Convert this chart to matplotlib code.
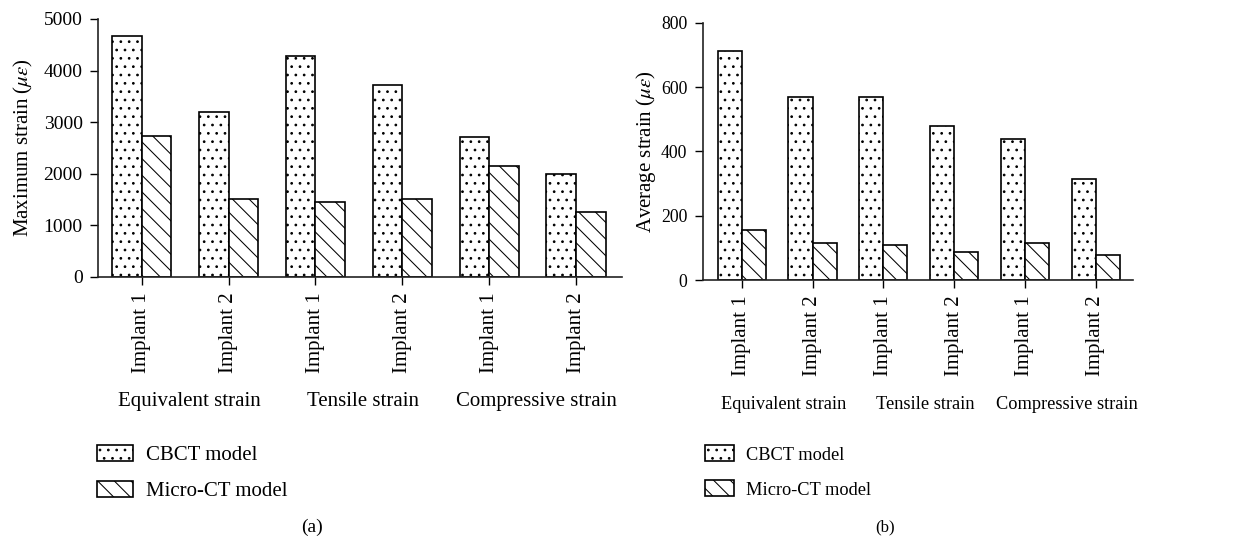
import numpy as np
import matplotlib
matplotlib.use("Agg")
from matplotlib import pyplot as plt

plt.rcParams['font.family'] = ['Liberation Serif', 'DejaVu Serif']
plt.rcParams['mathtext.fontset'] = 'stix'
plt.rcParams['hatch.linewidth'] = 0.75
plt.rcParams['hatch.color'] = '#333333'

implants = ["Implant 1", "Implant 2", "Implant 1", "Implant 2", "Implant 1", "Implant 2"]
groups = ["Equivalent strain", "Tensile strain", "Compressive strain"]
series = ["CBCT model", "Micro-CT model"]

# maximum strain (micro-strain)
max_cbct = [4670, 3190, 4290, 3720, 2710, 2000]
max_micro = [2730, 1500, 1450, 1500, 2150, 1255]

# average strain (micro-strain)
avg_cbct = [713, 568, 568, 479, 438, 315]
avg_micro = [156, 115, 108, 86, 115, 78]

fig = plt.figure(figsize=(12.58, 5.41), dpi=100)
axL = fig.add_axes([0.0779, 0.4886, 0.4163, 0.4763])
axR = fig.add_axes([0.5586, 0.4824, 0.3420, 0.4756])


def draw_panel(ax, cbct, micro, ylabel, ymax, ystep, xlim, label_x, group_dx,
               legend_x, tag, tag_x, hsize, tick_size, handle_len):
    x = np.arange(len(implants))
    w = 0.34
    b1 = ax.bar(x - w / 2, cbct, w, facecolor='white', edgecolor='black',
                linewidth=1.2, hatch='..', label=series[0])
    b2 = ax.bar(x + w / 2, micro, w, facecolor='white', edgecolor='black',
                linewidth=1.2, hatch='\\\\', label=series[1])
    ax.set_xlim(*xlim)
    ax.set_ylim(0, ymax)
    ax.set_yticks(np.arange(0, ymax + 1, ystep))
    ax.set_xticks(x)
    ax.set_xticklabels(implants, rotation=90, fontsize=15)
    ax.tick_params(axis='y', labelsize=tick_size, length=6, width=1, direction='out', pad=5)
    ax.tick_params(axis='x', length=6, width=1, direction='out', pad=5)
    for s in ['top', 'right']:
        ax.spines[s].set_visible(False)
    for s in ['left', 'bottom']:
        ax.spines[s].set_linewidth(1.2)
        ax.spines[s].set_color('#222222')
    ax.set_ylabel(ylabel, fontsize=15)
    ax.yaxis.set_label_coords(label_x, 0.5)

    # group names under each pair of implants
    for i, g in enumerate(groups):
        ax.text(2 * i + 0.5 + group_dx, -0.485, g, transform=ax.get_xaxis_transform(),
                ha='center', va='center', fontsize=hsize)

    leg = fig.legend(handles=[b1, b2], labels=series, loc='upper left',
                     bbox_to_anchor=(legend_x, 0.178), frameon=False, fontsize=15,
                     handlelength=handle_len, handleheight=0.85, handletextpad=0.6,
                     labelspacing=0.75, borderpad=0, borderaxespad=0)
    for t in leg.get_texts():
        t.set_fontsize(hsize)
    fig.text(tag_x, 0.026, tag, ha='center', va='center', fontsize=hsize - 1)


draw_panel(axL, max_cbct, max_micro, r"Maximum strain ($\mu\varepsilon$)",
           5000, 1000, (-0.503, 5.526), -0.12, 0.05, 0.0769, "(a)", 0.248,
           15, 14, 1.75)
draw_panel(axR, avg_cbct, avg_micro, r"Average strain ($\mu\varepsilon$)",
           800, 200, (-0.551, 5.527), -0.103, 0.09, 0.5604, "(b)", 0.7035,
           13.2, 12.8, 1.39)

fig.savefig("out.png", dpi=100)
